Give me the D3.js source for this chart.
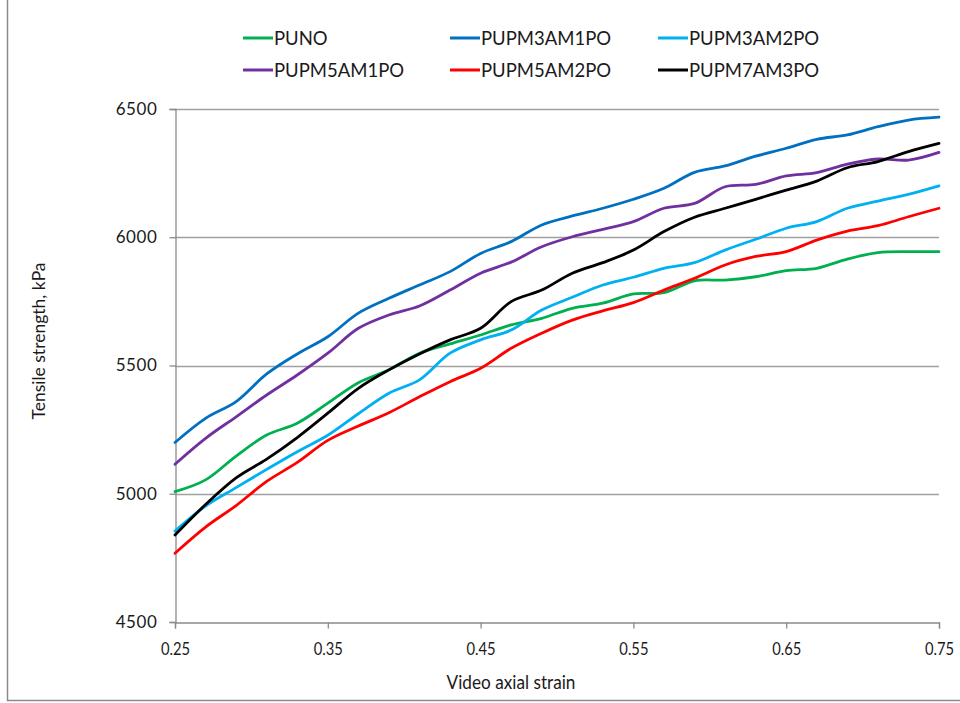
<!DOCTYPE html>
<html>
<head>
<meta charset="utf-8">
<script src="https://cdn.jsdelivr.net/npm/d3@7/dist/d3.min.js"></script>
<style>
  html, body { margin: 0; padding: 0; background: #fff; }
  svg { display: block; }
  text { font-family: Lato, "Open Sans", sans-serif; fill: #1a1a1a; }
</style>
</head>
<body>
<svg id="chart" width="960" height="703"></svg>
<script>
const strain = [0.25,0.27,0.29,0.31,0.33,0.35,0.37,0.39,0.41,0.43,0.45,0.47,0.49,0.51,0.53,0.55,0.57,0.59,0.61,0.63,0.65,0.67,0.69,0.71,0.73,0.75];

const PUNO       = [5008,5054,5147,5229,5275,5353,5433,5483,5548,5584,5619,5658,5684,5723,5743,5779,5784,5830,5833,5846,5870,5879,5915,5940,5944,5944];
const PUPM3AM1PO = [5200,5294,5359,5467,5545,5612,5704,5762,5814,5866,5937,5983,6048,6083,6113,6148,6191,6253,6278,6316,6347,6382,6399,6431,6457,6468];
const PUPM3AM2PO = [4855,4952,5024,5095,5164,5228,5312,5392,5444,5548,5600,5638,5716,5766,5814,5844,5879,5901,5950,5992,6035,6061,6113,6141,6167,6200];
const PUPM5AM1PO = [5115,5216,5300,5385,5463,5548,5645,5697,5732,5794,5860,5903,5963,6002,6031,6061,6113,6132,6197,6206,6239,6252,6285,6305,6301,6331];
const PUPM5AM2PO = [4768,4870,4954,5048,5122,5208,5264,5316,5378,5437,5489,5567,5626,5677,5713,5745,5794,5840,5892,5925,5944,5989,6024,6045,6080,6113];
const PUPM7AM3PO = [4839,4958,5062,5135,5219,5314,5411,5483,5545,5600,5645,5749,5794,5860,5901,5950,6022,6078,6113,6148,6184,6219,6271,6295,6334,6366];

const seriesNames  = ["PUNO","PUPM3AM1PO","PUPM3AM2PO","PUPM5AM1PO","PUPM5AM2PO","PUPM7AM3PO"];
const seriesValues = [PUNO, PUPM3AM1PO, PUPM3AM2PO, PUPM5AM1PO, PUPM5AM2PO, PUPM7AM3PO];
const seriesColors = ["#00B050","#0070C0","#00B0F0","#7030A0","#FF0000","#000000"];

const xTicks = [0.25,0.35,0.45,0.55,0.65,0.75];
const yTicks = [4500,5000,5500,6000,6500];
const xTitle = "Video axial strain";
const yTitle = "Tensile strength, kPa";

const svg = d3.select("#chart");

// chart frame
svg.append("rect").attr("x",7.5).attr("y",-5).attr("width",1000).attr("height",705.5)
  .attr("fill","none").attr("stroke","#8a8a8a").attr("stroke-width",1.5);

const mLeft = 175, mRight = 939, mTop = 109, mBottom = 622;
const x = d3.scaleLinear().domain([0.25,0.75]).range([mLeft,mRight]);
const y = d3.scaleLinear().domain([4500,6500]).range([mBottom,mTop]);

// gridlines
svg.append("g").selectAll("line").data(yTicks.filter(v=>v>4500)).join("line")
  .attr("x1",mLeft).attr("x2",mRight)
  .attr("y1",d=>Math.round(y(d))+0.5).attr("y2",d=>Math.round(y(d))+0.5)
  .attr("stroke","#a0a0a0").attr("stroke-width",1.3);

// y axis
const yAxis = svg.append("g").attr("transform",`translate(${mLeft+0.5},0)`)
  .call(d3.axisLeft(y).tickValues(yTicks).tickSize(6).tickPadding(12).tickFormat(d3.format("d")));
yAxis.select(".domain").attr("stroke","#8a8a8a").attr("stroke-width",1.3);
yAxis.selectAll(".tick line").attr("stroke","#8a8a8a").attr("stroke-width",1.3);
yAxis.selectAll(".tick text").attr("font-size",17).attr("letter-spacing","0.6px")
  .attr("font-family","Lato, sans-serif").attr("fill","#1a1a1a");

// x axis
const xAxis = svg.append("g").attr("transform",`translate(0,${mBottom+0.5})`)
  .call(d3.axisBottom(x).tickValues(xTicks).tickSize(6).tickPadding(14).tickFormat(d3.format(".2f")));
xAxis.select(".domain").attr("stroke","#8a8a8a").attr("stroke-width",1.3);
xAxis.selectAll(".tick line").attr("stroke","#8a8a8a").attr("stroke-width",1.3);
xAxis.selectAll(".tick text").attr("font-size",18).attr("font-family","Lato, sans-serif")
  .attr("fill","#1a1a1a").attr("transform","scale(0.82,1)");

// titles
svg.append("text").attr("text-anchor","middle")
  .attr("font-size",20).attr("transform","translate(511,689) scale(0.86,1)")
  .text(xTitle);
svg.append("text").attr("transform","translate(45,341) rotate(-90)").attr("text-anchor","middle")
  .attr("font-size",17.5).text(yTitle);

// lines
const line = d3.line().x((d,i)=>x(strain[i])).y(d=>y(d)).curve(d3.curveCatmullRom.alpha(0.5));
svg.append("g").selectAll("path").data(seriesValues).join("path")
  .attr("d",line).attr("fill","none")
  .attr("stroke",(d,i)=>seriesColors[i]).attr("stroke-width",2.8)
  .attr("stroke-linejoin","round").attr("stroke-linecap","round");

// legend
const legendCols = [243,450,658];
const legendRows = [38,70];
const lg = svg.append("g");
seriesNames.forEach((name,k)=>{
  const cx = legendCols[k%3], cy = legendRows[Math.floor(k/3)];
  lg.append("line").attr("x1",cx).attr("x2",cx+30).attr("y1",cy).attr("y2",cy)
    .attr("stroke",seriesColors[k]).attr("stroke-width",3);
  lg.append("text").attr("x",cx+31).attr("y",cy).attr("dy","0.36em")
    .attr("font-size",18.5).text(name);
});
</script>
</body>
</html>
